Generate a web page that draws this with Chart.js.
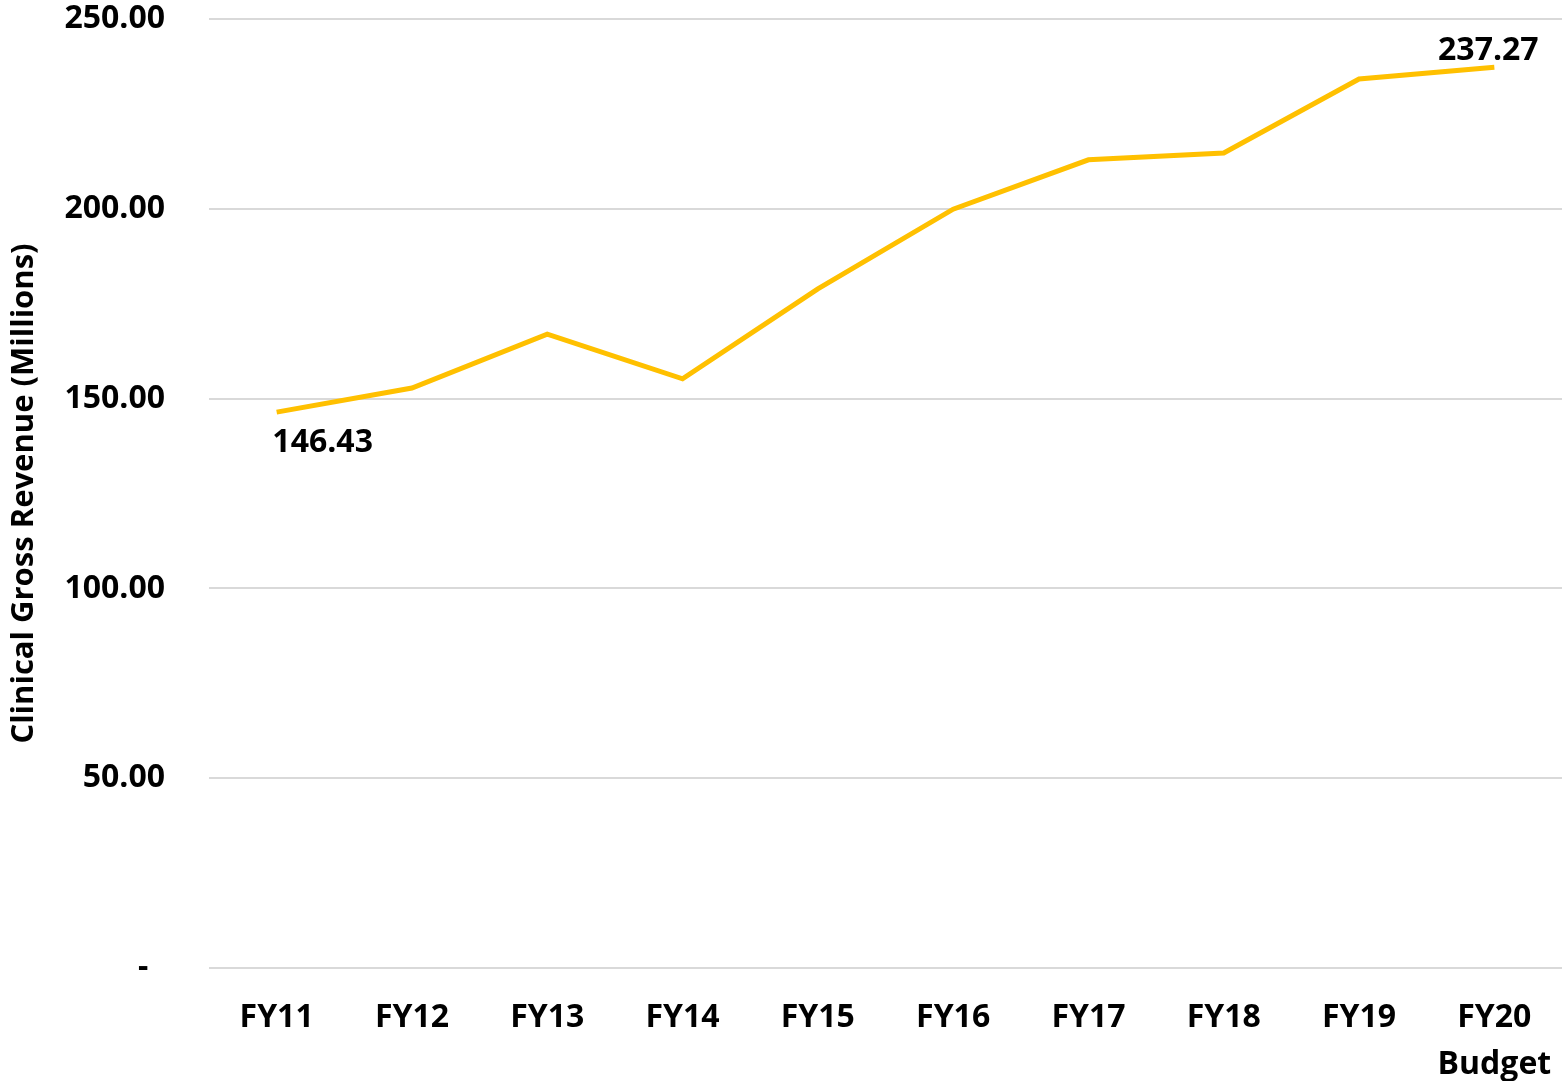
<!DOCTYPE html>
<html>
<head>
<meta charset="utf-8">
<script src="https://cdn.jsdelivr.net/npm/chart.js@4/dist/chart.umd.min.js"></script>
<style>
  html, body { margin: 0; padding: 0; background: #ffffff; }
  #wrap { width: 1562px; height: 1081px; position: relative; }
</style>
</head>
<body>
<div id="wrap"><canvas id="c" width="1562" height="1081"></canvas></div>
<script>
// Fiscal years shown on the x axis
const categories = ['FY11', 'FY12', 'FY13', 'FY14', 'FY15', 'FY16', 'FY17', 'FY18', 'FY19', ['FY20', 'Budget']];
// Clinical gross revenue, millions
const revenue = [146.43, 152.8, 167.0, 155.2, 178.9, 199.9, 212.9, 214.7, 234.2, 237.27];
// Values of the y axis ticks
const yTicks = [0, 50, 100, 150, 200, 250];
// Which points carry a value label, and where it sits relative to the point
const labelledPoints = [
  { index: 0, dx: 46, dy: 31 },
  { index: 9, dx: -6, dy: -16 }
];

const FONT = '"Open Sans", "DejaVu Sans", sans-serif';

const valueLabels = {
  id: 'valueLabels',
  afterDatasetsDraw(chart) {
    const { ctx } = chart;
    const xs = chart.scales.x, ys = chart.scales.y;
    ctx.save();
    ctx.font = 'bold 32px ' + FONT;
    ctx.fillStyle = '#000000';
    ctx.textAlign = 'center';
    ctx.textBaseline = 'middle';
    labelledPoints.forEach(p => {
      const v = revenue[p.index];
      const x = xs.getPixelForValue(p.index) + p.dx;
      const y = ys.getPixelForValue(v) + p.dy;
      ctx.fillText(v.toFixed(2), x, y);
    });
    ctx.restore();
  }
};

new Chart(document.getElementById('c'), {
  type: 'line',
  data: {
    labels: categories,
    datasets: [{
      data: revenue,
      borderColor: '#FFC000',
      borderWidth: 5,
      pointRadius: 0,
      pointHoverRadius: 0,
      tension: 0,
      fill: false
    }]
  },
  options: {
    responsive: false,
    animation: false,
    events: [],
    layout: { padding: { top: 19, right: 0, bottom: 0, left: 0 } },
    plugins: {
      legend: { display: false },
      tooltip: { enabled: false }
    },
    scales: {
      x: {
        offset: true,
        grid: { display: false },
        border: { display: false },
        ticks: {
          color: '#000000',
          font: { family: FONT, size: 32, weight: 'bold', lineHeight: 1.45 },
          padding: 19,
          maxRotation: 0,
          autoSkip: false
        },
        afterFit(scale) {
          scale.height = 113;
          scale.paddingLeft = 0;
          scale.paddingRight = 0;
        }
      },
      y: {
        min: 0,
        max: 250,
        afterBuildTicks(scale) {
          scale.ticks = yTicks.map(v => ({ value: v }));
        },
        grid: { color: '#d9d9d9', lineWidth: 2, drawTicks: false },
        border: { display: false },
        ticks: {
          color: '#000000',
          font: { family: FONT, size: 32, weight: 'bold' },
          padding: 44,
          callback: v => (v === 0 ? '-  ' : v.toFixed(2))
        },
        title: {
          display: true,
          text: 'Clinical Gross Revenue (Millions)',
          color: '#000000',
          font: { family: FONT, size: 31, weight: 'bold' },
          padding: { top: 6, bottom: 0 }
        },
        afterFit(scale) {
          scale.width = 209;
          scale.paddingTop = 0;
          scale.paddingBottom = 0;
        }
      }
    }
  },
  plugins: [valueLabels]
});
</script>
</body>
</html>
